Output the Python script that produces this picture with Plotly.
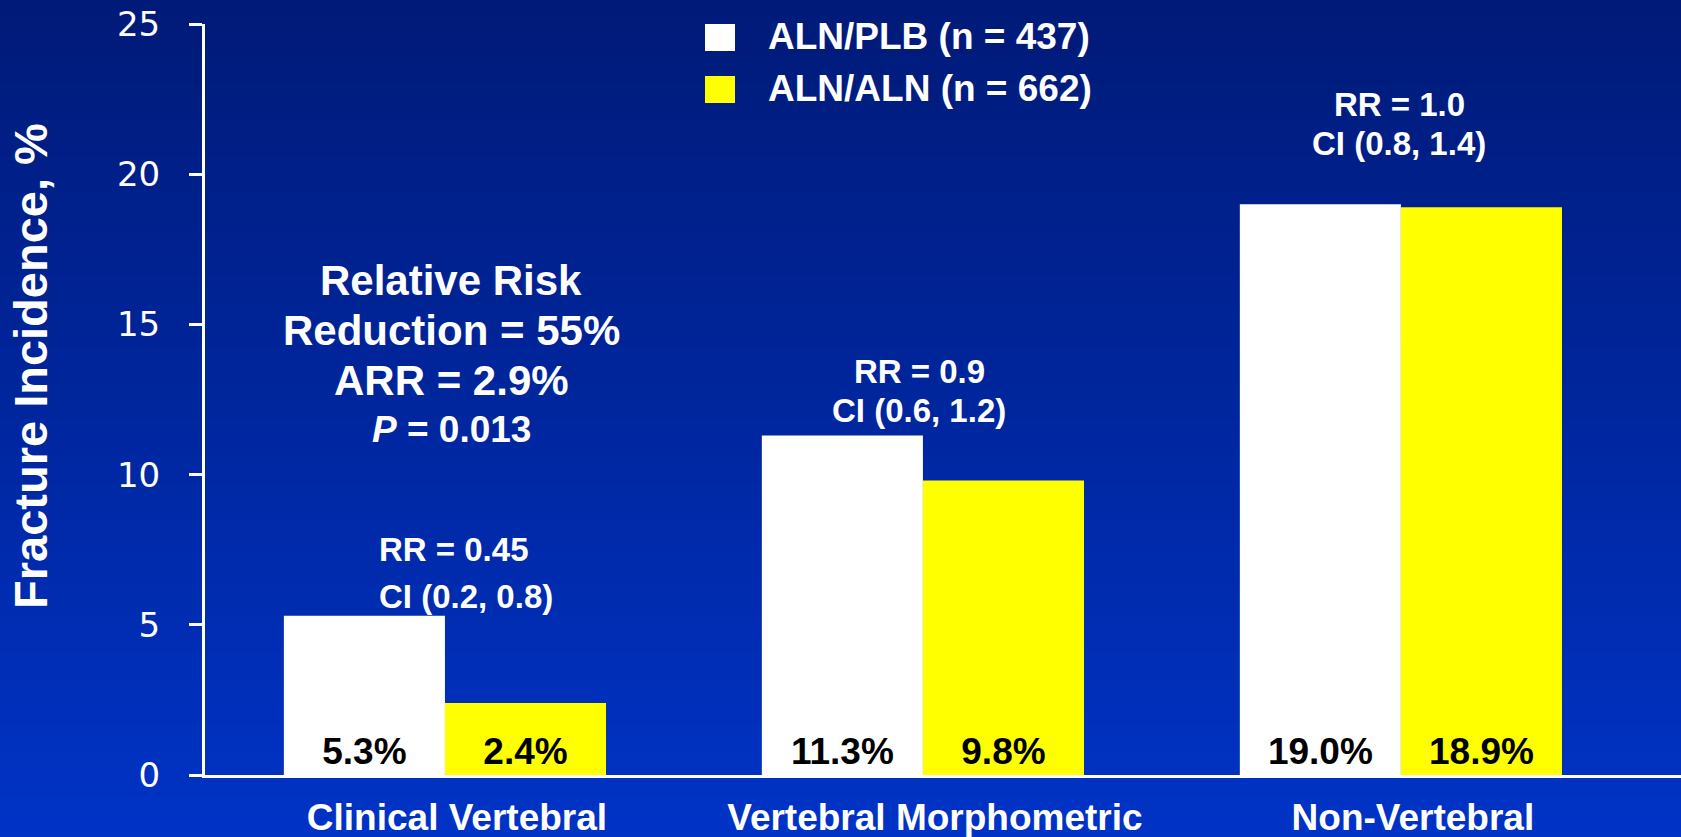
import plotly.graph_objects as go

# ---- data -------------------------------------------------------------
categories = ["Clinical Vertebral", "Vertebral Morphometric", "Non-Vertebral"]
aln_plb = [5.3, 11.3, 19.0]
aln_aln = [2.4, 9.8, 18.9]
series_names = ["ALN/PLB (n = 437)", "ALN/ALN (n = 662)"]
series_colors = ["#FFFFFF", "#FFFF00"]
rr_labels = ["RR = 0.45", "RR = 0.9", "RR = 1.0"]
ci_labels = ["CI (0.2, 0.8)", "CI (0.6, 1.2)", "CI (0.8, 1.4)"]
summary_lines = ["Relative Risk", "Reduction = 55%", "ARR = 2.9%", "<i>P</i> = 0.013"]
y_ticks = [0, 5, 10, 15, 20, 25]

# ---- page geometry (pixels) ------------------------------------------
W, H = 1681, 837
L, R, T, B = 205, 1681, 24, 775
PW, PH = R - L, B - T
FONT = "Liberation Sans, Arial, sans-serif"
TICK_FONT = "DejaVu Sans, Verdana, sans-serif"


def px(x):
    return (x - L) / PW


def py(y):
    return (B - y) / PH


fig = go.Figure()

for name, vals, col in zip(series_names, [aln_plb, aln_aln], series_colors):
    fig.add_trace(go.Bar(
        x=categories, y=vals, name=name,
        marker=dict(color=col, line=dict(width=0)),
        text=[f"{v:.1f}%" for v in vals],
        textposition="inside", insidetextanchor="start",
        constraintext="none", textangle=0,
        textfont=dict(family=FONT, size=37, color="black", weight="bold"),
        showlegend=False, hoverinfo="skip",
    ))

# background: vertical gradient from navy (top) to royal blue (bottom)
top_rgb = (0, 26, 120)
bot_rgb = (0, 51, 198)
n_bands = 140
shapes = []
for i in range(n_bands):
    f = i / (n_bands - 1)
    c = tuple(round(a + (b - a) * f) for a, b in zip(top_rgb, bot_rgb))
    y0 = i * H / n_bands
    y1 = (i + 1) * H / n_bands + 1
    shapes.append(dict(
        type="rect", xref="paper", yref="paper", layer="below",
        x0=px(0), x1=px(W), y0=py(y1), y1=py(y0),
        fillcolor=f"rgb{c}", line=dict(width=0),
    ))

# legend swatches
legend_rows = [(24, 51, 37), (76, 103, 88)]
for (sy0, sy1, _), col in zip(legend_rows, series_colors):
    shapes.append(dict(
        type="rect", xref="paper", yref="paper", layer="above",
        x0=px(705), x1=px(735), y0=py(sy1), y1=py(sy0),
        fillcolor=col, line=dict(width=0),
    ))

annotations = []
for (_, _, ty), name in zip(legend_rows, series_names):
    annotations.append(dict(
        text=f"<b>{name}</b>", xref="paper", yref="paper",
        x=px(766), y=py(ty), xanchor="left", yanchor="middle",
        showarrow=False, font=dict(family=FONT, size=37, color="white"),
    ))

# y-axis title
annotations.append(dict(
    text="<b>Fracture Incidence, %</b>", xref="paper", yref="paper",
    x=px(30), y=py(366), xanchor="center", yanchor="middle", textangle=-90,
    showarrow=False, font=dict(family=FONT, size=47, color="white"),
))

# summary block over the first group
for line, ly, size in zip(summary_lines, [281, 330, 381, 429], [42, 42, 42, 37]):
    annotations.append(dict(
        text=f"<b>{line}</b>", xref="paper", yref="paper",
        x=px(451), y=py(ly), xanchor="center", yanchor="middle",
        showarrow=False, font=dict(family=FONT, size=size, color="white"),
    ))

# relative-risk / confidence-interval notes
rr_pos = [(377, "left", 549, 596), (919, "center", 371, 411), (1399, "center", 104, 144)]
for (ax, anchor, ry, cy), rr, ci in zip(rr_pos, rr_labels, ci_labels):
    for txt, yy in ((rr, ry), (ci, cy)):
        annotations.append(dict(
            text=f"<b>{txt}</b>", xref="paper", yref="paper",
            x=px(ax), y=py(yy), xanchor=anchor, yanchor="middle",
            showarrow=False, font=dict(family=FONT, size=33, color="white"),
        ))

fig.update_layout(
    width=W, height=H,
    margin=dict(l=L, r=W - R, t=T, b=H - B, pad=0, autoexpand=False),
    paper_bgcolor="rgb(0,38,160)",
    plot_bgcolor="rgba(0,0,0,0)",
    barmode="group", bargap=0.326, bargroupgap=0,
    shapes=shapes, annotations=annotations,
    showlegend=False,
)

fig.update_xaxes(
    range=[-0.502, 2.586], automargin=False,
    showline=True, linewidth=3, linecolor="white",
    showgrid=False, zeroline=False, ticks="",
    tickfont=dict(family=FONT, size=37, color="white", weight="bold"),
    ticklabelshift=12, ticklabelstandoff=8,
)
fig.update_yaxes(
    range=[0, 25], tickvals=y_ticks, automargin=False,
    showline=True, linewidth=3, linecolor="white",
    showgrid=False, zeroline=False,
    ticks="outside", ticklen=13, tickwidth=3, tickcolor="white",
    tickfont=dict(family=TICK_FONT, size=34, color="white"),
    ticklabelstandoff=22,
)

fig.write_html("out.html")
